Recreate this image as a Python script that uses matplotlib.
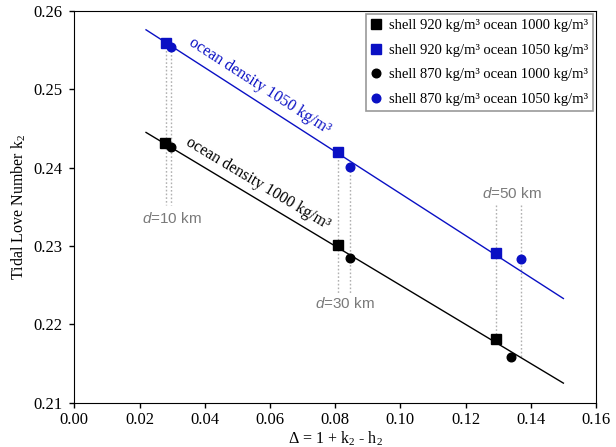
import matplotlib
matplotlib.use("Agg")
import matplotlib.pyplot as plt

plt.rcParams['font.family'] = ['Liberation Serif', 'DejaVu Serif']
plt.rcParams['mathtext.fontset'] = 'custom'
plt.rcParams['mathtext.rm'] = 'Liberation Serif'
plt.rcParams['mathtext.it'] = 'Liberation Sans:italic'

# Data (Δ, k2)
sq920_1000_x = [0.0279, 0.0810, 0.1292]
sq920_1000_y = [0.2431, 0.2301, 0.2181]
sq920_1050_x = [0.0280, 0.0810, 0.1292]
sq920_1050_y = [0.2559, 0.2420, 0.2291]
ci870_1000_x = [0.0296, 0.0846, 0.1338]
ci870_1000_y = [0.2426, 0.2285, 0.2158]
ci870_1050_x = [0.0296, 0.0845, 0.1369]
ci870_1050_y = [0.2554, 0.2401, 0.2283]

line_x = [0.022, 0.150]
line1050_y = [0.2576, 0.2233]
line1000_y = [0.2445, 0.2125]

# dotted guide lines: (x, y_top, y_bottom)
guide_x = [0.0280, 0.0296, 0.0810, 0.0846, 0.1292, 0.1369]
guide_top = [0.2559, 0.2554, 0.2420, 0.2401, 0.2352, 0.2352]
guide_bot = [0.2352, 0.2352, 0.2239, 0.2239, 0.2181, 0.2158]

d_labels = ['$d$=10 km', '$d$=30 km', '$d$=50 km']
d_label_x = [0.0300, 0.0830, 0.1342]
d_label_y = [0.2335, 0.2226, 0.2367]

legend_labels = ['shell 920 kg/m³ ocean 1000 kg/m³',
                 'shell 920 kg/m³ ocean 1050 kg/m³',
                 'shell 870 kg/m³ ocean 1000 kg/m³',
                 'shell 870 kg/m³ ocean 1050 kg/m³']

blue = '#0a10c4'

fig = plt.figure(figsize=(6.16, 4.47), dpi=100)
ax = fig.add_axes([0.1206, 0.0991, 0.8469, 0.8763])

for x, yt, yb in zip(guide_x, guide_top, guide_bot):
    ax.plot([x, x], [yt, yb], color='#b0b0b0', lw=1, ls=(0, (1.2, 1.5)), zorder=1)

ax.plot(line_x, line1050_y, color=blue, lw=1, zorder=2)
ax.plot(line_x, line1000_y, color='black', lw=1, zorder=2)

ax.plot(sq920_1000_x, sq920_1000_y, 's', color='black', ms=7, ls='none', label=legend_labels[0], zorder=3)
ax.plot(sq920_1050_x, sq920_1050_y, 's', color=blue, ms=7, ls='none', label=legend_labels[1], zorder=3)
ax.plot(ci870_1000_x, ci870_1000_y, 'o', color='black', ms=6.2, ls='none', label=legend_labels[2], zorder=3)
ax.plot(ci870_1050_x, ci870_1050_y, 'o', color=blue, ms=6.2, ls='none', label=legend_labels[3], zorder=3)

for t, x, y in zip(d_labels, d_label_x, d_label_y):
    ax.text(x, y, t, color='#7a7a7a', fontsize=11, family='Liberation Sans', ha='center', va='center')

ax.text(0.0569, 0.2504, 'ocean density 1050 kg/m³', color=blue, fontsize=11.5,
        rotation=-32.8, rotation_mode='anchor', ha='center', va='center')
ax.text(0.0563, 0.2380, 'ocean density 1000 kg/m³', color='black', fontsize=11.5,
        rotation=-30.9, rotation_mode='anchor', ha='center', va='center')

ax.set_xlim(0.0, 0.16)
ax.set_ylim(0.21, 0.26)
ax.set_xticks([0.00, 0.02, 0.04, 0.06, 0.08, 0.10, 0.12, 0.14, 0.16])
ax.set_yticks([0.21, 0.22, 0.23, 0.24, 0.25, 0.26])
ax.xaxis.set_major_formatter(matplotlib.ticker.FormatStrFormatter('%.2f'))
ax.yaxis.set_major_formatter(matplotlib.ticker.FormatStrFormatter('%.2f'))
ax.tick_params(direction='out', length=3.5, width=1, labelsize=12)
ax.tick_params(axis='y', pad=5)
ax.tick_params(axis='x', pad=3)
ax.set_xlabel('Δ = 1 + k$_2$ - h$_2$', fontsize=11.5, labelpad=1)
ax.set_ylabel('Tidal Love Number k$_2$', fontsize=11.5, labelpad=4)

leg = ax.legend(loc='upper right', fontsize=10.5, frameon=True, fancybox=False,
                edgecolor='#999999', framealpha=1, borderaxespad=0.2,
                handlelength=0.7, handletextpad=0.5, borderpad=0.35, labelspacing=0.78)
leg.get_frame().set_linewidth(1.2)

fig.savefig('out.png', dpi=100)
